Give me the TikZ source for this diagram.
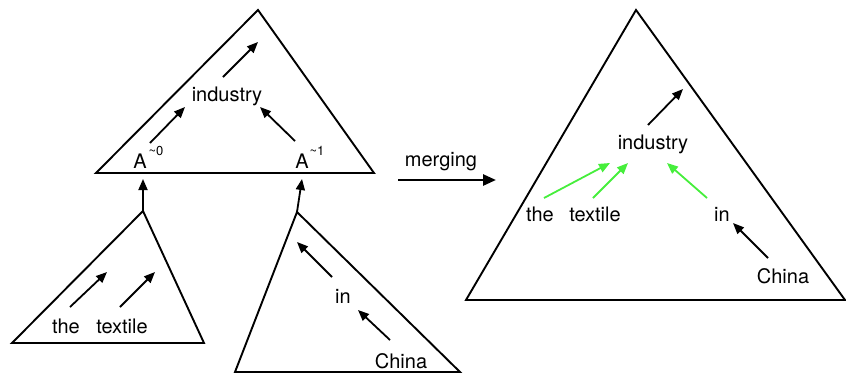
\documentclass[tikz,border=0pt]{standalone}
\usepackage{fontspec}
\setmainfont{TeX Gyre Heros}
\usetikzlibrary{arrows.meta}
\definecolor{brightgreen}{RGB}{70,238,60}
\tikzset{
  tri/.style={line width=1.9pt, line join=miter},
  arr/.style={line width=1.8pt, -{Triangle[length=11pt,width=9pt]}},
  garr/.style={arr, draw=brightgreen, fill=brightgreen},
  word/.style={inner sep=0pt, font=\fontsize{20}{24}\selectfont},
  sup/.style={inner sep=0pt, font=\fontsize{13}{15}\selectfont}
}
\begin{document}
\begin{tikzpicture}[x=1pt,y=-1pt]
\useasboundingbox (0,0) rectangle (846,376);
% triangles
\coordinate (T1a) at (258,10); \coordinate (T1l) at (96,173); \coordinate (T1r) at (374,173);
\draw[tri] (T1a) -- (T1l) -- (T1r) -- cycle;
\coordinate (T2a) at (143,211); \coordinate (T2l) at (12,343); \coordinate (T2r) at (204,343);
\draw[tri] (T2a) -- (T2l) -- (T2r) -- cycle;
\coordinate (T3a) at (297,212); \coordinate (T3l) at (235,372); \coordinate (T3r) at (460,372);
\draw[tri] (T3a) -- (T3l) -- (T3r) -- cycle;
\coordinate (T4a) at (636,10); \coordinate (T4l) at (466,300); \coordinate (T4r) at (845,300);
\draw[tri] (T4a) -- (T4l) -- (T4r) -- cycle;

% top triangle words
\node[word] (ind1) at (227,96) {industry};
\node[word] (A0) at (140,161) {A};
\node[sup] (s0) at (156,151) {\textasciitilde 0};
\node[word] (A1) at (302,161) {A};
\node[sup] (s1) at (317,151) {\textasciitilde 1};
\coordinate (ind1up1) at (223,77); \coordinate (ind1up2) at (258,42);
\draw[arr] (ind1up1) -- (ind1up2);
\coordinate (a0s) at (150,143); \coordinate (a0e) at (185,107);
\draw[arr] (a0s) -- (a0e);
\coordinate (a1s) at (295,141); \coordinate (a1e) at (260,107);
\draw[arr] (a1s) -- (a1e);
\coordinate (A0in) at (143,179);
\coordinate (A1in) at (302,179);
\draw[arr] (T2a) -- (A0in);
\draw[arr] (T3a) -- (A1in);

% bottom-left triangle
\node[word] (the1) at (66,326) {the};
\node[word] (tex1) at (122,326) {textile};
\coordinate (th1s) at (70,307); \coordinate (th1e) at (107,272);
\draw[arr] (th1s) -- (th1e);
\coordinate (tx1s) at (120,307); \coordinate (tx1e) at (155,272);
\draw[arr] (tx1s) -- (tx1e);

% bottom-right triangle
\node[word] (in1) at (343,296) {in};
\node[word] (ch1) at (401,361) {China};
\coordinate (in1s) at (332,277); \coordinate (in1e) at (297,242);
\draw[arr] (in1s) -- (in1e);
\coordinate (ch1s) at (390,340); \coordinate (ch1e) at (358,310);
\draw[arr] (ch1s) -- (ch1e);

% merging
\node[word] (merge) at (441,162) {merging};
\coordinate (ms) at (398,180); \coordinate (me) at (496,180);
\draw[line width=2.6pt, -{Triangle[length=13pt,width=11pt]}] (ms) -- (me);

% right triangle
\node[word] (ind2) at (653,144) {industry};
\node[word] (the2) at (540,214) {the};
\node[word] (tex2) at (595,214) {textile};
\node[word] (in2) at (722,214) {in};
\node[word] (ch2) at (783,276) {China};
\coordinate (i2s) at (648,125); \coordinate (i2e) at (683,89);
\draw[arr] (i2s) -- (i2e);
\coordinate (g1s) at (544,198); \coordinate (g1e) at (610,163);
\draw[garr] (g1s) -- (g1e);
\coordinate (g2s) at (593,198); \coordinate (g2e) at (628,163);
\draw[garr] (g2s) -- (g2e);
\coordinate (g3s) at (707,198); \coordinate (g3e) at (667,163);
\draw[garr] (g3s) -- (g3e);
\coordinate (c2s) at (768,258); \coordinate (c2e) at (733,223);
\draw[arr] (c2s) -- (c2e);
\end{tikzpicture}
\end{document}
